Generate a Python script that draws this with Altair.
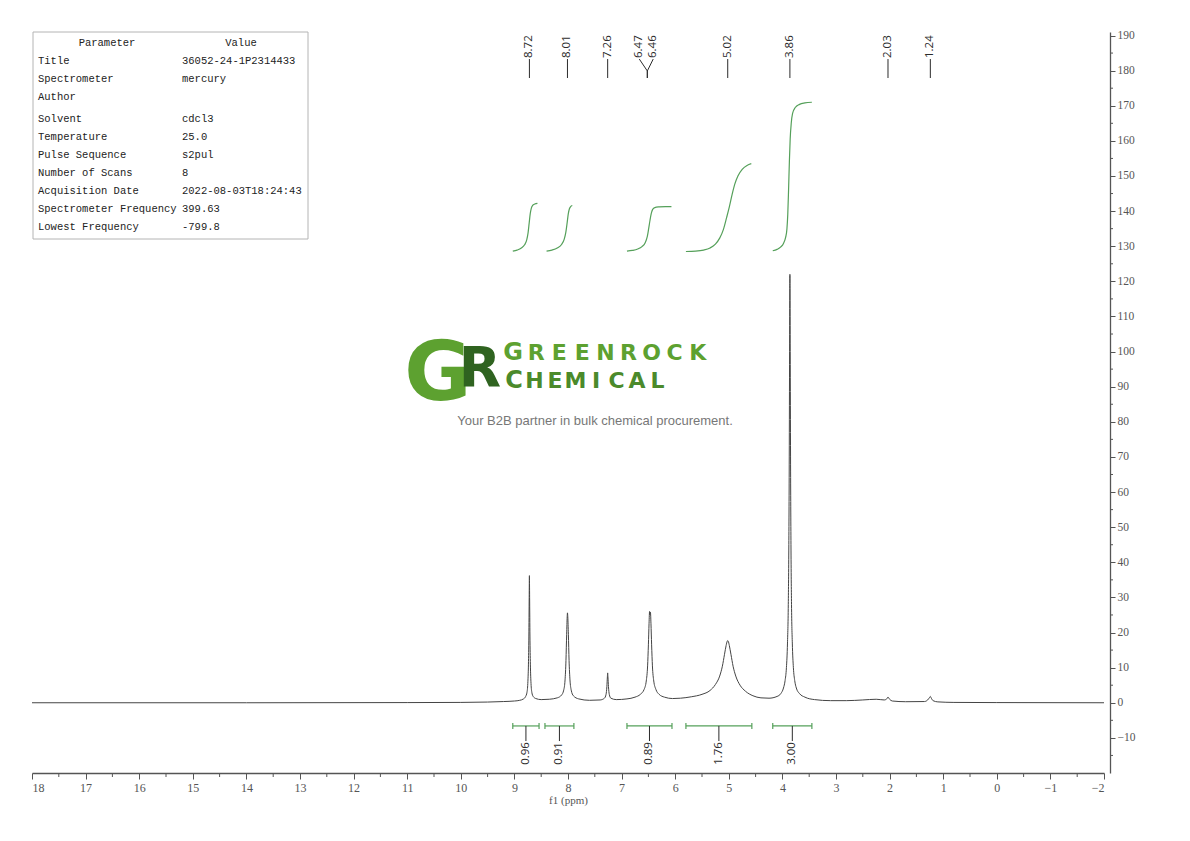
import altair as alt
import pandas as pd

# 1H NMR trace: chemical shift (ppm) and intensity
TRACE_PPM = [
    18.0, 14.0, 11.0, 10.0, 9.5, 9.2, 9.0, 8.9, 8.83, 8.79, 8.765, 8.75, 8.738, 8.73, 8.724, 8.72,
    8.716, 8.71, 8.702, 8.69, 8.675, 8.65, 8.6, 8.5, 8.35,
    8.2, 8.12, 8.08, 8.055, 8.038, 8.025, 8.015, 8.01, 8.004, 7.993, 7.98, 7.963, 7.94, 7.9, 7.8, 7.6,
    7.4, 7.32, 7.29, 7.275, 7.265, 7.26, 7.255, 7.245, 7.23, 7.2, 7.1, 6.9,
    6.75, 6.65, 6.58, 6.54, 6.515, 6.5, 6.488, 6.478, 6.47, 6.462, 6.452, 6.44, 6.425, 6.4, 6.36, 6.3,
    6.2, 6.05, 5.9,
    5.7, 5.5, 5.35, 5.25, 5.17, 5.12, 5.08, 5.05, 5.03, 5.02, 5.01, 4.99, 4.96, 4.92, 4.87, 4.79,
    4.69, 4.55, 4.4, 4.25,
    4.1, 4.03, 3.98, 3.95, 3.925, 3.905, 3.89, 3.88, 3.872, 3.866, 3.862, 3.86, 3.858, 3.854, 3.848,
    3.84, 3.83, 3.815, 3.795, 3.77, 3.74, 3.68, 3.58, 3.4, 3.1,
    2.8, 2.5, 2.25, 2.1, 2.06, 2.03, 2.0, 1.95, 1.7, 1.35, 1.29, 1.255, 1.24, 1.225, 1.19, 1.1,
    0.8, 0.0, -2.0,
]
TRACE_INT = [
    0.0, 0.0, 0.05, 0.1, 0.2, 0.35, 0.5, 0.7, 1.1, 1.8, 3.0, 5.5, 11, 19, 30, 36.2,
    30, 19, 11, 5.5, 3.0, 1.8, 1.2, 0.9, 1.0,
    1.4, 2.2, 3.6, 6.5, 12, 19.5, 24.5, 25.6, 24.5, 19.5, 12, 6.5, 3.6, 2.0, 1.1, 0.7,
    0.8, 1.3, 2.4, 4.6, 7.4, 8.5, 7.4, 4.6, 2.4, 1.3, 0.9, 1.1,
    1.6, 2.4, 3.8, 6.2, 10.5, 16.5, 22.5, 26.0, 25.0, 25.8, 22.5, 16.5, 10.5, 6.2, 3.8, 2.4,
    1.6, 1.2, 1.3,
    1.7, 2.4, 3.5, 5.2, 7.6, 10.4, 13.8, 16.3, 17.5, 17.7, 17.5, 16.3, 13.8, 10.4, 7.6, 5.0,
    3.3, 2.0, 1.4, 1.3,
    1.8, 2.6, 4.2, 6.3, 10, 17, 28, 45, 70, 100, 118, 122, 118, 100, 70,
    45, 28, 17, 10, 6.3, 4.2, 2.6, 1.6, 0.9, 0.6,
    0.6, 0.8, 1.0, 0.8, 1.0, 1.6, 1.0, 0.5, 0.3, 0.35, 0.8, 1.5, 1.8, 1.4, 0.6, 0.25,
    0.1, 0.05, 0.0,
]

# integral curves (green), one pair of arrays per region
INT1_PPM = [9.03, 8.95, 8.87, 8.81, 8.77, 8.745, 8.725, 8.705, 8.685, 8.66, 8.62, 8.57]
INT1_Y = [128.6, 128.9, 129.5, 130.4, 131.8, 133.8, 136.5, 139.2, 140.8, 141.6, 142.0, 142.2]
INT2_PPM = [8.40, 8.30, 8.20, 8.12, 8.07, 8.04, 8.015, 7.995, 7.975, 7.95, 7.92]
INT2_Y = [128.6, 128.9, 129.5, 130.5, 132.0, 134.0, 136.8, 139.2, 140.6, 141.3, 141.6]
INT3_PPM = [6.90, 6.80, 6.70, 6.62, 6.56, 6.52, 6.495, 6.47, 6.445, 6.42, 6.38, 6.30, 6.18, 6.07]
INT3_Y = [128.6, 128.8, 129.2, 129.9, 131.0, 132.8, 135.0, 137.4, 139.4, 140.5, 141.0, 141.2, 141.3, 141.3]
INT4_PPM = [5.80, 5.62, 5.47, 5.35, 5.25, 5.17, 5.10, 5.04, 4.99, 4.94, 4.89, 4.83, 4.75, 4.66, 4.58]
INT4_Y = [128.5, 128.6, 128.9, 129.5, 130.6, 132.3, 134.8, 138.2, 141.2, 144.6, 147.6, 150.0, 151.9, 153.0, 153.5]
INT5_PPM = [4.18, 4.10, 4.03, 3.98, 3.94, 3.915, 3.90, 3.885, 3.87, 3.855, 3.835, 3.81, 3.76, 3.68, 3.58, 3.45]
INT5_Y = [128.7, 129.1, 129.8, 130.8, 132.5, 135.0, 139.0, 146.0, 154.0, 160.5, 165.0, 167.8, 169.5, 170.4, 170.8, 171.0]

# integration regions under the baseline
REGION_START = [9.03, 8.43, 6.90, 5.80, 4.18]
REGION_END = [8.54, 7.89, 6.06, 4.57, 3.45]
REGION_VALUE = ["0.96", "0.91", "0.89", "1.76", "3.00"]

# peak picking
PEAK_SHIFT = [8.72, 8.01, 7.26, 6.47, 6.46, 5.02, 3.86, 2.03, 1.24]

# acquisition parameters table
PARAM_NAME = ["Title", "Spectrometer", "Author", "Solvent", "Temperature", "Pulse Sequence",
              "Number of Scans", "Acquisition Date", "Spectrometer Frequency", "Lowest Frequency"]
PARAM_VALUE = ["36052-24-1P2314433", "mercury", "", "cdcl3", "25.0", "s2pul",
               "8", "2022-08-03T18:24:43", "399.63", "-799.8"]

X_MAJOR = list(range(18, -3, -1))
X_MINOR = [17.5 - i for i in range(20)]
Y_MAJOR = list(range(-10, 191, 10))
Y_MINOR = list(range(-15, 190, 10))

INK = "#2b2b2b"
AXIS_GREY = "#555555"
GREEN = "#55a05a"
W, H = 1072, 741
X_LO, X_HI = -2, 18
Y_LO, Y_HI = -20, 191

x_scale = alt.Scale(domain=[X_LO, X_HI], reverse=True, nice=False, zero=False)
y_scale = alt.Scale(domain=[Y_LO, Y_HI], nice=False, zero=False)

axis_style = dict(grid=False, labelOverlap=False, domainColor=AXIS_GREY, domainWidth=1.3,
                  tickColor=AXIS_GREY, labelFont="Liberation Serif", labelColor=AXIS_GREY)
X_AXIS = alt.Axis(values=X_MAJOR, tickSize=6, labelFontSize=12, labelPadding=3,
                  title="f1 (ppm)", titleFont="Liberation Serif", titleFontSize=11,
                  titleFontWeight="normal", titleColor=AXIS_GREY, titlePadding=1, **axis_style)
Y_AXIS = alt.Axis(orient="right", offset=6, values=Y_MAJOR, tickSize=5, labelFontSize=11.5,
                  labelPadding=2, title="", **axis_style)


# every layer carries the same axis spec so the shared axes merge cleanly
def xq(field):
    return alt.X(f"{field}:Q", scale=x_scale, axis=X_AXIS)


def yq(field):
    return alt.Y(f"{field}:Q", scale=y_scale, axis=Y_AXIS)


# overlay items (table, logo) are laid out in plot pixels and mapped onto the scales
def px_x(p):
    return X_HI - p * (X_HI - X_LO) / W


def px_y(p):
    return Y_HI - p * (Y_HI - Y_LO) / H


# --- spectrum ---
trace = pd.DataFrame({"ppm": TRACE_PPM, "inten": TRACE_INT})
spectrum = alt.Chart(trace).mark_line(color="#444444", strokeWidth=1, interpolate="monotone").encode(
    x=xq("ppm"), y=yq("inten"),
)

# minor ticks between the labelled ones
x_minor = alt.Chart(pd.DataFrame({"v": X_MINOR})).mark_rule(color=AXIS_GREY, strokeWidth=1).encode(
    x=xq("v"), y=alt.value(H), y2=alt.value(H + 4))
y_minor = alt.Chart(pd.DataFrame({"v": Y_MINOR})).mark_rule(color=AXIS_GREY, strokeWidth=1).encode(
    y=yq("v"), x=alt.value(W + 6), x2=alt.value(W + 9))

# --- integral curves ---
segs = [(INT1_PPM, INT1_Y), (INT2_PPM, INT2_Y), (INT3_PPM, INT3_Y), (INT4_PPM, INT4_Y), (INT5_PPM, INT5_Y)]
integ = pd.concat(
    [pd.DataFrame({"ppm": p, "val": v, "seg": i}) for i, (p, v) in enumerate(segs)], ignore_index=True
)
integrals = alt.Chart(integ).mark_line(color=GREEN, strokeWidth=1.2, interpolate="monotone").encode(
    x=xq("ppm"), y=yq("val"), detail="seg:N"
)

# --- integration bars and values ---
regions = pd.DataFrame({"start": REGION_START, "end": REGION_END, "label": REGION_VALUE})
regions["mid"] = (regions["start"] + regions["end"]) / 2
reg = alt.Chart(regions).transform_calculate(bar="-6.6", lo="-5.75", hi="-7.45", tip="-10.9", ty="-11.2")
bar_line = reg.mark_rule(color=GREEN, strokeWidth=1.2).encode(x=xq("start"), x2="end", y=yq("bar"))
bar_caps = reg.transform_fold(["start", "end"], as_=["side", "edge"]).mark_rule(
    color=GREEN, strokeWidth=1.2).encode(x=xq("edge"), y=yq("lo"), y2="hi")
bar_tick = reg.mark_rule(color=INK, strokeWidth=1).encode(x=xq("mid"), y=yq("bar"), y2="tip")
bar_text = reg.mark_text(angle=270, align="right", baseline="middle", font="Open Sans",
                         fontSize=11.5, color=INK).encode(x=xq("mid"), y=yq("ty"), text="label:N")

# --- peak labels ---
pair_pos = {6.47: 6.67, 6.46: 6.41}  # the close pair is fanned out
peaks = pd.DataFrame({"shift": PEAK_SHIFT})
peaks["pos"] = [pair_pos.get(s, s) for s in PEAK_SHIFT]
peaks["join"] = [6.52 if s in pair_pos else s for s in PEAK_SHIFT]
peaks["single"] = [s not in pair_pos for s in PEAK_SHIFT]
peaks["text"] = [f"{s:.2f}" for s in PEAK_SHIFT]
pk = alt.Chart(peaks).transform_calculate(low="177.9", high="183.3", mid="179.9", ty="183.6")
pk_tick = pk.transform_filter("datum.single").mark_rule(color=INK, strokeWidth=1).encode(
    x=xq("pos"), y=yq("low"), y2="high")
pk_fan = pk.transform_filter("!datum.single").mark_rule(color=INK, strokeWidth=1).encode(
    x=xq("pos"), x2="join", y=yq("high"), y2="mid")
pk_stem = pk.transform_filter("!datum.single").mark_rule(color=INK, strokeWidth=1).encode(
    x=xq("join"), y=yq("low"), y2="mid")
pk_text = pk.mark_text(angle=270, align="left", baseline="middle", font="Open Sans",
                       fontSize=11.5, color=INK).encode(x=xq("pos"), y=yq("ty"), text="text:N")

# --- parameter table ---
box = alt.Chart(pd.DataFrame({"a": [0]})).mark_rect(fill="white", stroke="#b4b4b4", strokeWidth=1).encode(
    x=alt.value(1), x2=alt.value(276), y=alt.value(0), y2=alt.value(207)
)
table = pd.DataFrame({"name": PARAM_NAME, "value": PARAM_VALUE})
table["ty"] = [px_y(29 + 18 * k + (4 if k >= 3 else 0)) for k in range(len(table))]
tfont = dict(font="Liberation Mono", fontSize=10.5, color="#222222", baseline="middle")
t_name = alt.Chart(table).mark_text(align="left", **tfont).encode(
    x=alt.value(6), y=yq("ty"), text="name:N")
t_value = alt.Chart(table).mark_text(align="left", **tfont).encode(
    x=alt.value(150), y=yq("ty"), text="value:N")
head_df = pd.DataFrame({"a": [0]})
t_head1 = alt.Chart(head_df).mark_text(align="center", text="Parameter", **tfont).encode(
    x=alt.value(75), y=alt.value(11))
t_head2 = alt.Chart(head_df).mark_text(align="center", text="Value", **tfont).encode(
    x=alt.value(209), y=alt.value(11))


# --- watermark logo ---
def letters(word, x0, step, base, big, small):
    return pd.DataFrame({
        "ch": list(word),
        "lx": [px_x(x0 + step * i) for i in range(len(word))],
        "ly": [px_y(base)] * len(word),
        "fs": [big] + [small] * (len(word) - 1),
    })


def logo_word(df, color):
    return alt.Chart(df).mark_text(align="center", baseline="alphabetic", font="DejaVu Sans",
                                   fontWeight="bold", color=color).encode(
        x=xq("lx"), y=yq("ly"), text="ch:N", size=alt.Size("fs:Q", scale=None))


logo_g = logo_word(letters("G", 406, 0, 368, 82, 82), "#5da130")
logo_r = logo_word(letters("R", 448, 0, 354, 55, 55), "#2f6320")
logo_top = logo_word(letters("GREENROCK", 481, 23.1, 328, 24, 22), "#5da130")
logo_bot = logo_word(letters("CHEMICAL", 482, 20.5, 356, 24, 22), "#4b8a2b")
tagline = alt.Chart(pd.DataFrame({"a": [0]})).mark_text(
    align="center", baseline="middle", font="Liberation Sans", fontSize=13, color="#777777",
    text="Your B2B partner in bulk chemical procurement."
).encode(x=alt.value(563), y=alt.value(389))

chart = alt.layer(
    spectrum, box, t_head1, t_head2, t_name, t_value,
    logo_g, logo_r, logo_top, logo_bot, tagline,
    x_minor, y_minor, integrals, bar_line, bar_caps, bar_tick, bar_text,
    pk_tick, pk_fan, pk_stem, pk_text,
).properties(
    width=W, height=H,
    padding={"left": 24, "top": 24, "right": 60, "bottom": 60},
    autosize=alt.AutoSizeParams(type="none"),
    background="white",
).configure_view(strokeWidth=0).configure_axis(labelOverlap=False)

chart.save("out.html", embed_options={"renderer": "svg", "actions": False})
